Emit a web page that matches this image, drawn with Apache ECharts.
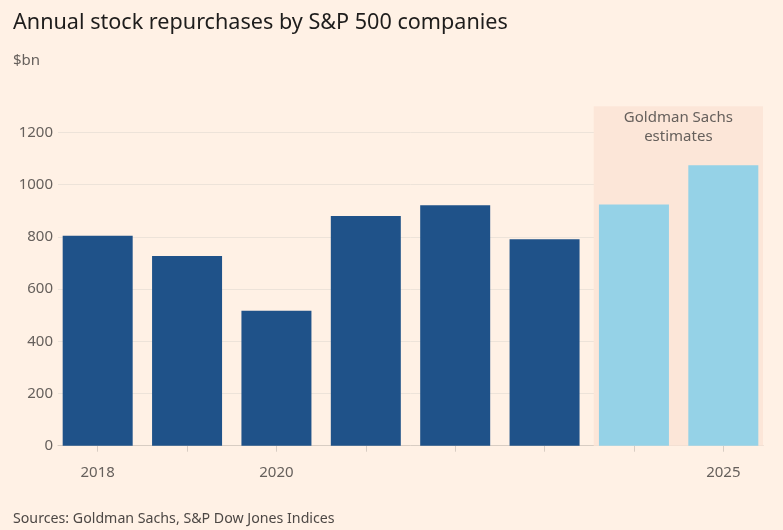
<!DOCTYPE html>
<html>
<head>
<meta charset="utf-8">
<script src="https://cdn.jsdelivr.net/npm/echarts@6/dist/echarts.min.js"></script>
<style>
html,body{margin:0;padding:0;background:#fff1e5;}
#chart{width:783px;height:530px;}
</style>
</head>
<body>
<div id="chart"></div>
<script>
const years = [2018, 2019, 2020, 2021, 2022, 2023, 2024, 2025];
const buybacks = [804, 726, 517, 880, 921, 791, 924, 1074];
const isEstimate = [false, false, false, false, false, false, true, true];
const xLabelYears = [2018, 2020, 2025];
const estimateStart = 2023.55;

const FONT = '"Noto Sans", sans-serif';
const chart = echarts.init(document.getElementById('chart'), null, {renderer: 'canvas'});

const barData = years.map((y, i) => ({
  value: [y, buybacks[i]],
  itemStyle: {color: isEstimate[i] ? '#95d2e7' : '#1f5289'}
}));

const xMin = 2017.556, xMax = 2025.444;

chart.setOption({
  backgroundColor: '#fff1e5',
  animation: false,
  title: [
    {text: 'Annual stock repurchases by S&P 500 companies', left: 8, top: 6,
     textStyle: {fontFamily: FONT, fontSize: 21.6, fontWeight: 'normal', color: '#1e1d1c', lineHeight: 24}},
    {text: '$bn', left: 8, top: 48,
     textStyle: {fontFamily: FONT, fontSize: 15, fontWeight: 'normal', color: '#66605c', lineHeight: 16}},
    {text: 'Sources: Goldman Sachs, S&P Dow Jones Indices', left: 8, top: 506,
     textStyle: {fontFamily: FONT, fontSize: 14.2, fontWeight: 'normal', color: '#4d4845', lineHeight: 16}}
  ],
  grid: {left: 58, right: 20, top: 106.2, bottom: 84.3, containLabel: false},
  xAxis: {
    type: 'value', min: xMin, max: xMax,
    axisLine: {show: true, lineStyle: {color: '#d8cdc3', width: 1}},
    axisTick: {show: true, customValues: years, length: 6, lineStyle: {color: '#d8cdc3'}},
    axisLabel: {show: true, customValues: xLabelYears, margin: 20, fontFamily: FONT, fontSize: 15, color: '#66605c',
      formatter: v => String(Math.round(v))},
    splitLine: {show: false}
  },
  yAxis: {
    type: 'value', min: 0, max: 1300, interval: 200,
    axisLine: {show: false}, axisTick: {show: false},
    axisLabel: {margin: 5, fontFamily: FONT, fontSize: 15, color: '#66605c', showMaxLabel: false,
      formatter: v => String(v)},
    splitLine: {show: true, showMaxLine: false, lineStyle: {color: '#ede3d9', width: 1}}
  },
  series: [{
    type: 'bar',
    data: barData,
    barWidth: 70,
    z: 3,
    markArea: {
      silent: true,
      itemStyle: {color: '#fce6d8'},
      label: {
        show: true, position: 'insideTop', distance: 2,
        fontFamily: FONT, fontSize: 15, color: '#66605c', lineHeight: 19, align: 'center'
      },
      data: [[
        {name: 'Goldman Sachs\nestimates', xAxis: estimateStart, yAxis: 0},
        {xAxis: xMax, yAxis: 1300}
      ]]
    }
  }]
});
</script>
</body>
</html>
